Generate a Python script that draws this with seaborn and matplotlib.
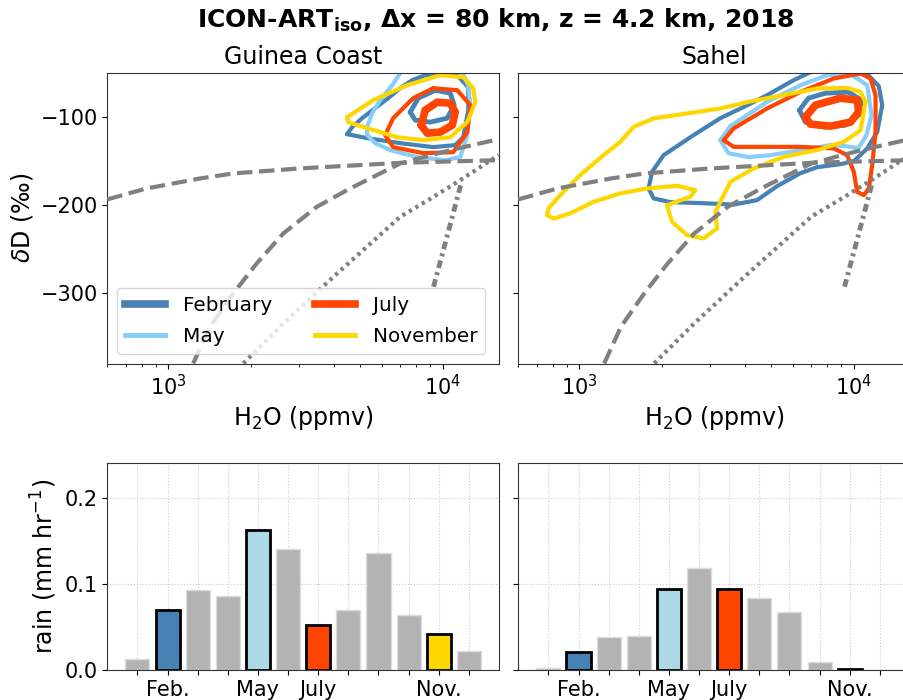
import matplotlib
matplotlib.use("Agg")
import matplotlib.pyplot as plt
from matplotlib.lines import Line2D
import seaborn as sns

# ---------------------------------------------------------------- data
months = ["Jan", "Feb", "Mar", "Apr", "May", "Jun",
          "Jul", "Aug", "Sep", "Oct", "Nov", "Dec"]
month_ticklabels = ["", "Feb.", "", "", "May", "", "July", "", "", "", "Nov.", ""]

rain_guinea = [0.013, 0.070, 0.093, 0.086, 0.163, 0.141,
               0.052, 0.070, 0.136, 0.064, 0.042, 0.022]
rain_sahel = [0.002, 0.021, 0.038, 0.039, 0.094, 0.118,
              0.094, 0.083, 0.067, 0.009, 0.0015, 0.0]

legend_months = ["February", "May", "July", "November"]

# reference curves (same in both regions)
mix_h2o = [600, 834, 1305, 1725, 3020, 6988, 16040]
mix_dD = [-193.5, -181.1, -169.8, -164.1, -158.4, -152.1, -149.0]

rayleigh_h2o = [1233, 1419, 1725, 2100, 2625, 3474, 4595, 6988, 10631, 15944]
rayleigh_dD = [-379.3, -337.8, -300.0, -266.0, -232.0, -201.9, -181.1, -152.8, -137.7, -125.3]

dotted_h2o = [1876, 2625, 3993, 5284, 6988, 9242, 11562, 15944]
dotted_dD = [-379.3, -334.0, -281.2, -247.2, -213.2, -190.6, -171.7, -143.4]

dashdot_h2o = [9242, 10342, 11690]
dashdot_dD = [-292.5, -235.9, -173.6]

# Guinea Coast density contours
gc_feb_outer_h2o = [4479, 4671, 5080, 5667, 6319, 6988, 7730, 8620, 9777, 11087, 12366,
                    12366, 11858, 11087, 9219, 6988, 5298, 4479]
gc_feb_outer_dD = [-119.6, -111.7, -101.5, -90.1, -78.8, -67.5, -58.4, -52.8, -50.5, -50.5, -66.4,
                   -92.4, -123.0, -132.0, -134.3, -129.8, -124.1, -119.6]
gc_feb_inner_h2o = [7601, 8128, 9399, 10631, 10994, 10368, 8991, 7930, 7601]
gc_feb_inner_dD = [-94.7, -78.8, -69.8, -73.2, -86.7, -101.5, -106.0, -103.7, -94.7]

gc_may_outer_h2o = [5298, 5525, 5909, 6534, 6988, 7290, 11087, 11758, 12366, 12576, 12263,
                    11563, 10195, 8062, 6427, 5667, 5298, 5298]
gc_may_outer_dD = [-111.7, -95.8, -81.1, -64.1, -50.5, -38.1, -38.1, -49.4, -64.1, -86.7, -120.7,
                   -145.6, -149.0, -145.6, -137.7, -129.8, -120.7, -111.7]

gc_jul_outer_h2o = [9219, 11275, 12576, 12263, 10902, 8476, 6590, 6162, 6590, 7796, 9219]
gc_jul_outer_dD = [-67.5, -69.8, -86.7, -117.3, -140.0, -141.1, -134.3, -120.7, -101.5, -78.8, -67.5]
gc_jul_inner_h2o = [8335, 8620, 9533, 10631, 11087, 10812, 9777, 8767, 8335]
gc_jul_inner_dD = [-109.4, -92.4, -83.4, -84.5, -94.7, -109.4, -117.3, -118.5, -109.4]

gc_nov_outer_h2o = [4479, 5572, 7413, 9777, 11858, 12895, 13115, 12263, 10631, 8476, 6815,
                    5298, 4517, 4479]
gc_nov_outer_dD = [-100.3, -81.1, -64.1, -52.8, -55.0, -67.5, -83.4, -106.0, -123.0, -126.4, -123.0,
                   -112.8, -106.0, -100.3]

# Sahel density contours
sh_feb_outer_h2o = [1789, 1841, 2029, 2609, 3265, 4027, 4831, 6039, 6947, 8938, 11024, 12322,
                    12679, 12159, 11182, 9991, 8938, 7352, 6388, 5253, 4443, 3650, 2761, 2147,
                    1866, 1789]
sh_feb_outer_dD = [-181.1, -162.3, -143.4, -120.7, -101.5, -87.9, -75.4, -58.4, -49.4, -44.8, -49.4,
                   -65.2, -86.7, -117.0, -135.8, -150.2, -153.6, -157.0, -163.8, -178.5, -194.3,
                   -199.4, -197.7, -196.6, -192.4, -181.1]
sh_feb_inner_h2o = [6337, 6831, 7881, 9557, 10659, 10394, 9320, 7881, 6661, 6337]
sh_feb_inner_dD = [-92.4, -78.8, -73.2, -72.0, -81.1, -98.1, -109.4, -111.7, -106.0, -92.4]

sh_may_outer_h2o = [3265, 3550, 4831, 6388, 7993, 9719, 11182, 11593, 11115, 10394, 9320,
                    8216, 6388, 4967, 4129, 3491, 3265]
sh_may_outer_dD = [-126.4, -110.5, -83.0, -64.1, -52.8, -51.6, -64.1, -98.1, -120.7, -135.4, -133.2,
                   -132.0, -137.7, -143.4, -145.6, -141.1, -126.4]

sh_jul_outer_h2o = [3357, 3650, 4831, 6388, 8450, 10570, 11496, 11990, 11990, 11658, 11335,
                    10867, 10280, 9991, 9454, 8450, 6388, 4831, 3650, 3357]
sh_jul_outer_dD = [-126.4, -113.1, -90.5, -71.7, -56.5, -50.9, -56.5, -75.4, -117.0, -154.7, -181.1,
                   -188.7, -185.0, -162.3, -143.4, -135.8, -134.0, -134.0, -134.0, -126.4]
sh_jul_inner_h2o = [6661, 7245, 8938, 10307, 10394, 9719, 8216, 6947, 6661]
sh_jul_inner_dD = [-100.3, -86.7, -78.8, -81.1, -94.7, -106.0, -110.5, -108.3, -100.3]

sh_nov_outer_h2o = [11024, 10570, 9454, 7352, 5553, 4200, 3265, 2469, 1866, 1578, 1411, 1226,
                    1008, 853, 773, 763, 806, 927, 1127, 1411, 1765, 2270, 2647, 2538, 2087,
                    2177, 2469, 2838, 3176, 3131, 3550, 4317, 5553, 7352, 9188, 10570, 11024]
sh_nov_outer_dD = [-83.0, -71.7, -67.2, -67.8, -75.4, -82.5, -90.5, -96.1, -101.8, -111.3, -128.3,
                   -143.4, -166.0, -188.7, -203.7, -211.3, -215.1, -209.4, -196.3, -186.7, -181.1,
                   -178.1, -183.0, -190.6, -200.0, -218.9, -234.0, -237.7, -226.4, -207.6, -173.6,
                   -158.4, -145.3, -137.7, -128.3, -115.1, -83.0]

# --------------------------------------------------------------- styling
c_feb = "#4682b4"
c_may_line = "#87cefa"
c_may_bar = "#add8e6"
c_jul = "#ff4500"
c_nov = "#ffd700"
c_other = "#b3b3b3"
bar_colors = {m: c_other for m in months}
bar_colors.update({"Feb": c_feb, "May": c_may_bar, "Jul": c_jul, "Nov": c_nov})
highlight = {"Feb", "May", "Jul", "Nov"}

plt.rcParams["font.family"] = ["DejaVu Sans"]
plt.rcParams["axes.edgecolor"] = "#333333"

fig = plt.figure(figsize=(9.04, 7.00), dpi=100)
ax_gc = fig.add_axes([0.1187, 0.48, 0.4333, 0.4161])
ax_sh = fig.add_axes([0.5733, 0.48, 0.4333, 0.4161], sharey=ax_gc)
ax_rg = fig.add_axes([0.1187, 0.0429, 0.4333, 0.2953])
ax_rs = fig.add_axes([0.5733, 0.0429, 0.4333, 0.2953], sharey=ax_rg)


def line(ax, x, y, color, lw, dashes=None, z=2):
    kw = dict(sort=False, estimator=None, color=color, lw=lw, ax=ax,
              legend=False, zorder=z)
    if dashes is None:
        kw.update(solid_joinstyle="round", solid_capstyle="round")
    sns.lineplot(x=x, y=y, **kw)
    if dashes is not None:
        ax.lines[-1].set_dashes(dashes)


contours = {
    ax_gc: [
        (gc_feb_outer_h2o, gc_feb_outer_dD, c_feb, 3.0),
        (gc_feb_inner_h2o, gc_feb_inner_dD, c_feb, 3.5),
        (gc_may_outer_h2o, gc_may_outer_dD, c_may_line, 3.0),
        (gc_jul_outer_h2o, gc_jul_outer_dD, c_jul, 3.0),
        (gc_jul_inner_h2o, gc_jul_inner_dD, c_jul, 5.5),
        (gc_nov_outer_h2o, gc_nov_outer_dD, c_nov, 3.0),
    ],
    ax_sh: [
        (sh_feb_outer_h2o, sh_feb_outer_dD, c_feb, 3.0),
        (sh_feb_inner_h2o, sh_feb_inner_dD, c_feb, 3.5),
        (sh_may_outer_h2o, sh_may_outer_dD, c_may_line, 3.0),
        (sh_jul_outer_h2o, sh_jul_outer_dD, c_jul, 3.0),
        (sh_jul_inner_h2o, sh_jul_inner_dD, c_jul, 5.5),
        (sh_nov_outer_h2o, sh_nov_outer_dD, c_nov, 3.0),
    ],
}

for ax, title in [(ax_gc, "Guinea Coast"), (ax_sh, "Sahel")]:
    ax.set_xscale("log")
    for x, y, c, lw in contours[ax]:
        line(ax, x, y, c, lw, z=2)
    line(ax, mix_h2o, mix_dD, "gray", 3.0, (3.7, 1.6), z=3)
    line(ax, rayleigh_h2o, rayleigh_dD, "gray", 3.0, (3.7, 1.6), z=3)
    line(ax, dotted_h2o, dotted_dD, "gray", 3.0, (0.8, 1.0), z=3)
    line(ax, dashdot_h2o, dashdot_dD, "gray", 3.5, (1.6, 0.9, 0.6, 0.9), z=3)
    ax.set_xlim(600, 16000)
    ax.set_ylim(-380, -50)
    ax.set_yticks([-100, -200, -300])
    ax.set_title(title, fontsize=17)
    ax.set_xlabel(r"H$_2$O (ppmv)", fontsize=17)
    ax.tick_params(labelsize=15)

ax_gc.set_ylabel(r"$\delta$D (‰)", fontsize=17)
ax_sh.set_ylabel("")
ax_sh.tick_params(labelleft=False)

handles = [
    Line2D([], [], color=c_feb, lw=5.5),
    Line2D([], [], color=c_may_line, lw=3.5),
    Line2D([], [], color=c_jul, lw=5.5),
    Line2D([], [], color=c_nov, lw=3.5),
]
leg = ax_gc.legend(handles, legend_months, loc="lower left", ncol=2, fontsize=14.4,
                   handletextpad=0.9, columnspacing=2.1, labelspacing=0.6)
leg.set_zorder(5)

# monthly rain
for ax, vals in [(ax_rg, rain_guinea), (ax_rs, rain_sahel)]:
    sns.barplot(x=months, y=vals, hue=months, palette=bar_colors, saturation=1,
                width=0.8, legend=False, ax=ax, order=months)
    for m, patch in zip(months, ax.patches):
        if m in highlight:
            patch.set_edgecolor("black")
            patch.set_linewidth(2)
            patch.set_zorder(3)
        else:
            patch.set_edgecolor("#dddddd")
            patch.set_linewidth(1)
    ax.set_xlim(-1, 12)
    ax.set_ylim(0, 0.24)
    ax.set_yticks([0.0, 0.1, 0.2])
    ax.set_xticks(range(12))
    ax.set_xticklabels(month_ticklabels)
    ax.set_axisbelow(True)
    ax.grid(True, ls=":", color="#cccccc", lw=0.8)
    ax.tick_params(labelsize=15)
    ax.set_xlabel("")

ax_rg.set_ylabel(r"rain (mm hr$^{-1}$)", fontsize=17)
ax_rs.set_ylabel("")
ax_rs.tick_params(labelleft=False)

fig.text(0.548, 0.971, r"ICON-ART$_{\mathbf{iso}}$, Δx = 80 km, z = 4.2 km, 2018",
         ha="center", va="center", fontsize=18, fontweight="bold")

fig.savefig("out.png", dpi=100)
